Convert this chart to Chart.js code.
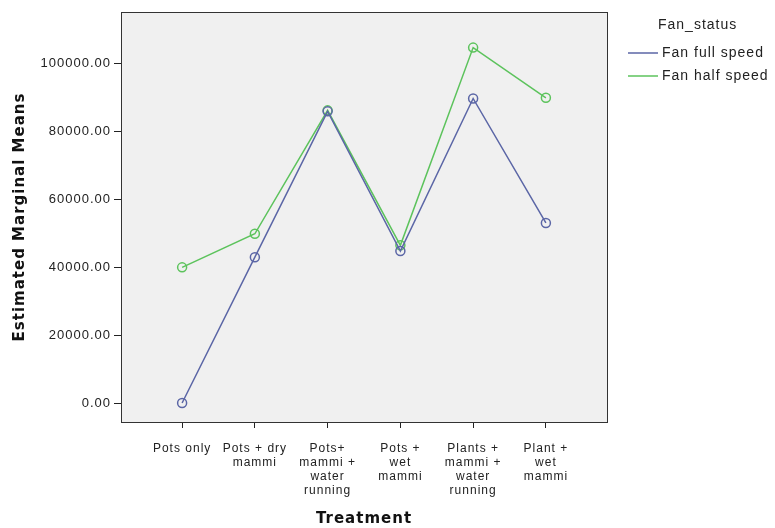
<!DOCTYPE html>
<html>
<head>
<meta charset="utf-8">
<script src="https://cdn.jsdelivr.net/npm/chart.js@4/dist/chart.umd.min.js"></script>
<style>
html,body{margin:0;padding:0;background:#fff;}
#wrap{width:775px;height:528px;}
</style>
</head>
<body>
<div id="wrap"><canvas id="c" width="775" height="528"></canvas></div>
<script>
const categories = [
  ["Pots only"],
  ["Pots + dry", "mammi"],
  ["Pots+", "mammi +", "water", "running"],
  ["Pots +", "wet", "mammi"],
  ["Plants +", "mammi +", "water", "running"],
  ["Plant +", "wet", "mammi"]
];
const seriesNames = ["Fan full speed", "Fan half speed"];
const fullSpeed = [0, 43000, 86000, 44800, 89800, 53100];
const halfSpeed = [40000, 49900, 86300, 46500, 104800, 90000];
const yTicks = [0, 20000, 40000, 60000, 80000, 100000];
const colors = ["#5b66a6", "#5cc35c"];

const frame = {
  id: 'frame',
  beforeInit(chart) { chart.ctx.letterSpacing = '1px'; },
  beforeLayout(chart) { chart.ctx.letterSpacing = '1px'; },
  beforeDraw(chart) { chart.ctx.letterSpacing = '1px'; },
  beforeDatasetsDraw(chart) {
    const {ctx, chartArea: a} = chart;
    ctx.save();
    ctx.fillStyle = '#f0f0f0';
    ctx.fillRect(a.left, a.top, a.right - a.left, a.bottom - a.top);
    ctx.restore();
  },
  afterDraw(chart) {
    const {ctx, chartArea: a} = chart;
    ctx.save();
    ctx.strokeStyle = '#333';
    ctx.lineWidth = 1;
    ctx.strokeRect(Math.round(a.left) + 0.5, Math.round(a.top) + 0.5, Math.round(a.right - a.left), Math.round(a.bottom - a.top));
    // legend
    ctx.letterSpacing = '1px';
    ctx.fillStyle = '#222';
    ctx.font = '14px "Liberation Sans", Arial, sans-serif';
    ctx.textBaseline = 'middle';
    ctx.textAlign = 'left';
    ctx.fillText('Fan_status', 658, 25);
    const rows = [53, 76];
    chart.data.datasets.forEach((ds, i) => {
      ctx.strokeStyle = ds.borderColor;
      ctx.lineWidth = 1.5;
      ctx.beginPath();
      ctx.moveTo(628, rows[i]);
      ctx.lineTo(658, rows[i]);
      ctx.stroke();
      ctx.fillStyle = '#222';
      ctx.fillText(ds.label, 662, rows[i]);
    });
    ctx.restore();
  }
};

const mk = (vals) => vals.map((v, i) => ({x: i, y: v}));

new Chart(document.getElementById('c'), {
  type: 'line',
  data: {
    datasets: [
      {label: seriesNames[0], data: mk(fullSpeed), borderColor: colors[0], backgroundColor: 'transparent',
       borderWidth: 1.5, pointRadius: 4.5, pointBorderWidth: 1.5, pointBackgroundColor: 'transparent', pointBorderColor: colors[0], tension: 0},
      {label: seriesNames[1], data: mk(halfSpeed), borderColor: colors[1], backgroundColor: 'transparent',
       borderWidth: 1.5, pointRadius: 4.5, pointBorderWidth: 1.5, pointBackgroundColor: 'transparent', pointBorderColor: colors[1], tension: 0}
    ]
  },
  options: {
    responsive: false,
    animation: false,
    layout: {padding: {top: 12, right: 168, left: 0, bottom: 0}},
    plugins: {legend: {display: false}, tooltip: {enabled: false}},
    scales: {
      x: {
        type: 'linear',
        min: -0.84, max: 5.84,
        afterBuildTicks(axis) { axis.ticks = categories.map((c, i) => ({value: i})); },
        afterFit(axis) { axis.height = 106; },
        grid: {display: true, drawOnChartArea: false, drawTicks: true, tickLength: 6, color: '#222'},
        border: {display: false},
        ticks: {
          autoSkip: false, maxRotation: 0, padding: 14,
          color: '#222',
          font: {family: '"Liberation Sans", Arial, sans-serif', size: 12, lineHeight: 1.17},
          callback: (v) => categories[v]
        },
        title: {display: true, text: 'Treatment', color: '#111',
          font: {family: '"DejaVu Sans", sans-serif', size: 15, weight: 'bold'}, padding: {top: 8, bottom: 0}}
      },
      y: {
        min: -5600, max: 115300,
        afterBuildTicks(axis) { axis.ticks = yTicks.map(v => ({value: v})); },
        afterFit(axis) { axis.width = 121; },
        grid: {display: true, drawOnChartArea: false, drawTicks: true, tickLength: 7, color: '#222'},
        border: {display: false},
        ticks: {
          padding: 3, color: '#222',
          font: {family: '"Liberation Sans", Arial, sans-serif', size: 13},
          callback: (v) => Number(v).toFixed(2)
        },
        title: {display: true, text: 'Estimated Marginal Means', color: '#111',
          font: {family: '"DejaVu Sans", sans-serif', size: 15, weight: 'bold'}, padding: {top: 11, bottom: 4}}
      }
    }
  },
  plugins: [frame]
});
</script>
</body>
</html>
